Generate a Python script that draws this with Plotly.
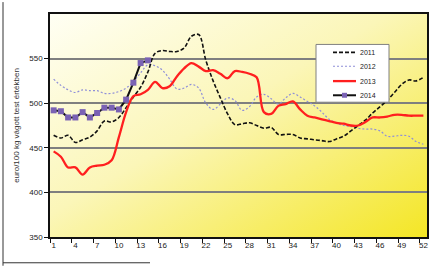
import base64
import plotly.graph_objects as go

weeks = list(range(1, 53))
y2011 = [464, 461, 464, 456, 459, 462, 469, 480, 479, 484, 495, 507, 518, 535, 556, 559, 558, 558, 562, 575,
         577, 548, 525, 506, 488, 476, 477, 478, 475, 472, 473, 465, 465, 465, 461, 460, 459, 458, 457, 460,
         463, 469, 475, 481, 489, 496, 503, 512, 521, 526, 525, 529]
y2012 = [527, 520, 515, 512, 515, 514, 514, 511, 511, 513, 517, 524, 534, 543, 542, 537, 527, 516, 517, 521,
         517, 500, 493, 499, 506, 503, 492, 496, 507, 510, 505, 499, 506, 511, 507, 502, 497, 490, 482, 478,
         475, 474, 472, 471, 471, 469, 463, 463, 464, 463, 457, 454]
y2013 = [446, 440, 428, 428, 420, 428, 430, 431, 436, 462, 490, 508, 510, 515, 524, 517, 519, 530, 539, 545,
         541, 536, 537, 533, 528, 536, 535, 533, 529, 490, 488, 497, 499, 502, 493, 486, 484, 482, 480, 478,
         477, 475, 475, 479, 484, 484, 485, 487, 487, 486, 486, 486]
weeks2014 = list(range(1, 15))
y2014 = [492, 491, 484, 484, 490, 484, 489, 495, 495, 493, 504, 523, 545, 548]

x_ticks = list(range(1, 53, 3))
y_ticks = [350, 400, 450, 500, 550]
series_names = ["2011", "2012", "2013", "2014"]
y_title = "euro/100 kg vágott test értékben"

W, H = 441, 266
ML, MR, MT, MB = 50, 14, 12, 29
PW, PH = W - ML - MR, H - MT - MB


def px(x):
    return (x - ML) / PW


def py(y):
    return (H - MB - y) / PH


svg = ('<svg xmlns="http://www.w3.org/2000/svg" width="400" height="240" preserveAspectRatio="none">'
       '<defs><linearGradient id="g" x1="0" y1="0" x2="1" y2="1">'
       '<stop offset="0" stop-color="#fffff4"/>'
       '<stop offset="0.45" stop-color="#fbf6b8"/>'
       '<stop offset="1" stop-color="#f4e625"/>'
       '</linearGradient></defs><rect width="400" height="240" fill="url(#g)"/></svg>')
src = "data:image/svg+xml;base64," + base64.b64encode(svg.encode()).decode()

fig = go.Figure()
fig.add_trace(go.Scatter(x=weeks, y=y2012, mode="lines", name=series_names[1],
                         line=dict(color="#8f8fd8", width=1.2, dash="2px,2px", shape="spline")))
fig.add_trace(go.Scatter(x=weeks, y=y2011, mode="lines", name=series_names[0],
                         line=dict(color="#111111", width=1.6, dash="4px,2px", shape="spline")))
fig.add_trace(go.Scatter(x=weeks, y=y2013, mode="lines", name=series_names[2],
                         line=dict(color="#ff1f1f", width=2.3, shape="spline")))
fig.add_trace(go.Scatter(x=weeks2014, y=y2014, mode="lines+markers", name=series_names[3],
                         line=dict(color="#111111", width=2),
                         marker=dict(symbol="square", size=6, color="#7a62b4")))

shapes = []
# outer frame fragments
shapes.append(dict(type="line", xref="paper", yref="paper", x0=px(3), x1=px(3), y0=py(0), y1=py(H),
                   line=dict(color="#333333", width=1)))
shapes.append(dict(type="line", xref="paper", yref="paper", x0=px(3), x1=px(150), y0=py(263), y1=py(263),
                   line=dict(color="#333333", width=1)))
# legend box
lx0, lx1, ly0, ly1 = 316, 389, 42.7, 101
shapes.append(dict(type="rect", xref="paper", yref="paper", x0=px(lx0), x1=px(lx1), y0=py(ly1), y1=py(ly0),
                   fillcolor="white", line=dict(color="#808080", width=1), layer="above"))
ent_y = [50.7, 64.7, 79.7, 94]
styles = [dict(color="#111111", width=1.6, dash="4px,2px"),
          dict(color="#8f8fd8", width=1.2, dash="2px,2px"),
          dict(color="#ff1f1f", width=2.3),
          dict(color="#111111", width=2)]
annotations = []
for name, yy, st in zip(series_names, ent_y, styles):
    shapes.append(dict(type="line", xref="paper", yref="paper", x0=px(333), x1=px(356), y0=py(yy), y1=py(yy),
                       line=st, layer="above"))
    annotations.append(dict(xref="paper", yref="paper", x=px(357.5), y=py(yy), text=name, showarrow=False,
                            xanchor="left", yanchor="middle", font=dict(size=7, color="#222222")))
shapes.append(dict(type="rect", xref="paper", yref="paper", x0=px(342), x1=px(347), y0=py(96.5), y1=py(91.5),
                   fillcolor="#7a62b4", line=dict(width=0), layer="above"))

fig.update_layout(
    width=W, height=H,
    margin=dict(l=ML, r=MR, t=MT, b=MB),
    paper_bgcolor="white",
    plot_bgcolor="rgba(0,0,0,0)",
    showlegend=False,
    font=dict(family="Liberation Sans, Arial, sans-serif", size=8, color="#222222"),
    images=[dict(source=src, xref="paper", yref="paper", x=0, y=1, sizex=1, sizey=1,
                 sizing="stretch", layer="below")],
    shapes=shapes,
    annotations=annotations,
)
fig.update_xaxes(range=[0.5, 52.5], tickvals=x_ticks, ticktext=[str(v) for v in x_ticks],
                 ticks="", showgrid=False, zeroline=False,
                 showline=True, linecolor="#111111", linewidth=1.5, mirror=True,
                 minor=dict(tick0=0.5, dtick=3, ticks="outside", ticklen=4, tickcolor="#111111", showgrid=False),
                 tickfont=dict(size=8, color="#222222"))
fig.update_yaxes(range=[350, 600], tickvals=y_ticks, ticks="outside", ticklen=4, tickcolor="#111111",
                 showgrid=True, gridcolor="#7f7f7f", gridwidth=1.5, zeroline=False,
                 showline=True, linecolor="#111111", linewidth=1.5, mirror=True,
                 tickfont=dict(size=8, color="#222222"),
                 title=dict(text=y_title, font=dict(size=8, color="#333333"), standoff=8))

fig.write_html("out.html", config={"displayModeBar": False},
               post_script="document.body.style.margin='0';document.body.style.overflow='hidden';")
